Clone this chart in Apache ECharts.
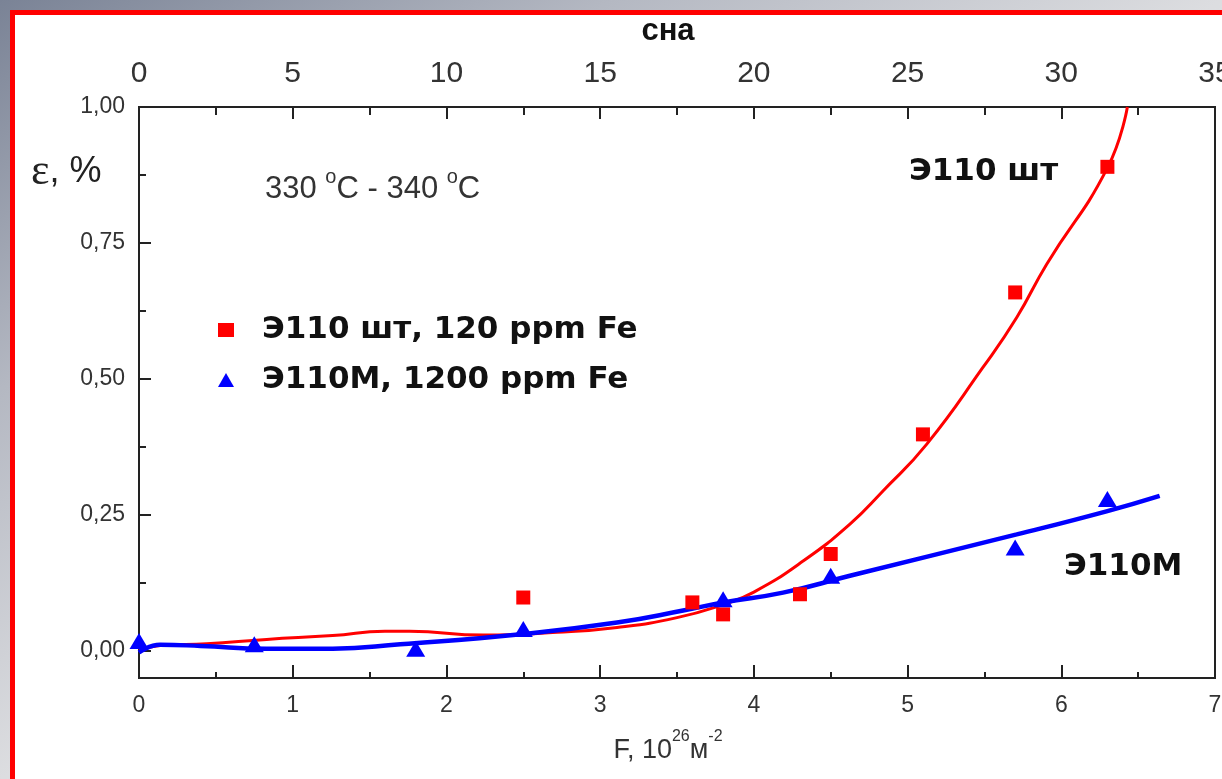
<!DOCTYPE html>
<html>
<head>
<meta charset="utf-8">
<script src="https://cdn.jsdelivr.net/npm/echarts@6/dist/echarts.min.js"></script>
<style>
  html, body { margin: 0; padding: 0; width: 1222px; height: 779px; overflow: hidden; }
  body { background: linear-gradient(to bottom right, #7a8396 0%, #b4b8c2 25%, #dcdde0 50%, #eeeeee 100%); }
  #frame { position: absolute; left: 10px; top: 10px; right: 0; bottom: 0;
           border-left: 5px solid #ff0000; border-top: 5px solid #ff0000; background: #ffffff; }
  #chart { position: absolute; left: 0; top: 0; width: 1222px; height: 779px; }
</style>
</head>
<body>
<div id="frame"></div>
<div id="chart"></div>
<script>
// Creep strain vs. fluence, 330-340 °C
const nameE110 = 'Э110 шт, 120 ppm Fe';
const nameE110M = 'Э110М, 1200 ppm Fe';

// measured points
const fluenceE110 = [2.5, 3.6, 3.8, 4.3, 4.5, 5.1, 5.7, 6.3];
const strainE110  = [0.098, 0.089, 0.067, 0.104, 0.178, 0.398, 0.659, 0.89];
const fluenceE110M = [0.0, 0.75, 1.8, 2.5, 3.8, 4.5, 5.7, 6.3];
const strainE110M  = [0.018, 0.012, 0.004, 0.040, 0.095, 0.138, 0.190, 0.279];

// fitted trend curves
const fitE110X = [0.0, 0.15, 0.44, 0.83, 1.26, 1.6, 1.76, 2.24, 2.72, 3.11, 3.5, 3.8, 4.0, 4.32, 4.625, 4.84, 5.125, 5.49, 5.71, 5.905, 6.3, 6.43];
const fitE110Y = [0.0, 0.010, 0.013, 0.021, 0.028, 0.036, 0.036, 0.029, 0.034, 0.043, 0.061, 0.085, 0.108, 0.165, 0.233, 0.294, 0.380, 0.521, 0.613, 0.711, 0.888, 1.0];
const fitE110MX = [0.0, 0.137, 0.4, 0.83, 1.26, 1.7, 2.5, 3.11, 3.54, 3.8, 4.19, 4.625, 5.71, 6.3, 6.64];
const fitE110MY = [-0.003, 0.011, 0.009, 0.004, 0.004, 0.012, 0.031, 0.052, 0.074, 0.089, 0.107, 0.138, 0.214, 0.257, 0.285];

// axis ticks
const fluenceTicks = [0, 1, 2, 3, 4, 5, 6, 7];
const topTicks = [0, 5, 10, 15, 20, 25, 30, 35];
const strainMajor = [0, 0.25, 0.5, 0.75, 1.0];
const strainMinor = [0.125, 0.375, 0.625, 0.875];

const zip = (xs, ys) => xs.map((x, i) => [x, ys[i]]);

const SANS = '"Liberation Sans", Arial, sans-serif';
const BOLD = '"DejaVu Sans", Verdana, sans-serif';
const AXIS = '#222';
const RED = '#ff0000';
const BLUE = '#0000ff';

const chart = echarts.init(document.getElementById('chart'), null, { renderer: 'canvas' });

const tickStyle = { color: AXIS, width: 2 };

chart.setOption({
  backgroundColor: 'transparent',
  animation: false,
  grid: {
    left: 139, right: 7, top: 107, bottom: 101,
    outerBoundsMode: 'none', containLabel: false,
    show: true, borderColor: AXIS, borderWidth: 2, backgroundColor: 'transparent'
  },
  legend: {
    data: [nameE110, nameE110M],
    orient: 'vertical',
    left: 213, top: 308,
    itemWidth: 16, itemHeight: 14,
    itemGap: 16,
    textStyle: { fontFamily: BOLD, fontWeight: 'bold', fontSize: 31, color: '#111', lineHeight: 34, padding: [0, 0, 0, 23] }
  },
  xAxis: [
    {
      type: 'value', position: 'bottom', min: fluenceTicks[0], max: fluenceTicks[fluenceTicks.length - 1], interval: 1,
      axisLine: { show: true, onZero: false, lineStyle: tickStyle },
      axisTick: { inside: true, length: 13, lineStyle: tickStyle },
      minorTick: { show: true, splitNumber: 2, length: 6, lineStyle: tickStyle },
      splitLine: { show: false },
      axisLabel: { fontFamily: SANS, fontSize: 23, color: '#333', margin: 16 },
      name: '{t|F, 10}{s|26}{t|м}{s|-2}',
      nameLocation: 'middle', nameGap: 51,
      nameTextStyle: {
        padding: [0, 18, 0, 0],
        rich: {
          t: { fontFamily: SANS, fontSize: 27, lineHeight: 44, color: '#333' },
          s: { fontFamily: SANS, fontSize: 16, lineHeight: 16, verticalAlign: 'top', color: '#333' }
        }
      }
    },
    {
      type: 'value', position: 'top', min: topTicks[0], max: topTicks[topTicks.length - 1], interval: 5,
      axisLine: { show: true, onZero: false, lineStyle: tickStyle },
      axisTick: { inside: true, length: 12, lineStyle: tickStyle },
      minorTick: { show: true, splitNumber: 2, length: 8, lineStyle: tickStyle },
      splitLine: { show: false },
      axisLabel: { fontFamily: SANS, fontSize: 30, color: '#333', margin: 18 },
      name: 'сна', nameLocation: 'middle', nameGap: 60,
      nameTextStyle: { fontFamily: SANS, fontWeight: 'bold', fontSize: 31, color: '#111', padding: [0, 18, 0, 0] }
    }
  ],
  yAxis: [
    {
      type: 'value', position: 'left', min: -0.05, max: 1.0,
      axisLine: { show: true, onZero: false, lineStyle: tickStyle },
      axisTick: { inside: true, length: 12, lineStyle: tickStyle, customValues: strainMajor },
      splitLine: { show: false },
      axisLabel: {
        customValues: strainMajor,
        fontFamily: SANS, fontSize: 23, color: '#333', margin: 14,
        formatter: v => v.toFixed(2).replace('.', ',')
      }
    },
    {
      type: 'value', position: 'left', min: -0.05, max: 1.0,
      axisLine: { show: false },
      axisTick: { show: true, inside: true, length: 7, lineStyle: tickStyle, customValues: strainMinor },
      axisLabel: { show: false },
      splitLine: { show: false }
    }
  ],
  series: [
    {
      name: 'fit Э110', type: 'line', data: zip(fitE110X, fitE110Y),
      smooth: 0.5, showSymbol: false, symbol: 'none',
      lineStyle: { color: RED, width: 3 }, z: 2, silent: true
    },
    {
      name: 'fit Э110М', type: 'line', data: zip(fitE110MX, fitE110MY),
      smooth: 0.5, showSymbol: false, symbol: 'none',
      lineStyle: { color: BLUE, width: 4.5 }, z: 2, silent: true
    },
    {
      name: nameE110, type: 'scatter', data: zip(fluenceE110, strainE110),
      symbol: 'rect', symbolSize: 14, itemStyle: { color: RED, opacity: 1 }, z: 4
    },
    {
      name: nameE110M, type: 'scatter', data: zip(fluenceE110M, strainE110M),
      symbol: 'triangle', symbolSize: [19, 16], itemStyle: { color: BLUE, opacity: 1 }, z: 5
    }
  ],
  graphic: [
    {
      type: 'text', left: 31, top: 150,
      style: {
        text: '{e|ε}{p|, %}',
        rich: {
          e: { fontFamily: '"Liberation Serif", "Times New Roman", serif', fontSize: 44, fill: '#222', lineHeight: 44 },
          p: { fontFamily: SANS, fontSize: 36, fill: '#222', lineHeight: 44 }
        }
      }
    },
    {
      type: 'text', left: 265, top: 167,
      style: {
        text: '{n|330 }{o|o}{n|C - 340 }{o|o}{n|C}',
        rich: {
          n: { fontFamily: SANS, fontSize: 31, lineHeight: 44, fill: '#333' },
          o: { fontFamily: SANS, fontSize: 20, lineHeight: 20, verticalAlign: 'top', fill: '#333' }
        }
      }
    },
    {
      type: 'text', left: 909, top: 156,
      style: { text: 'Э110 шт', font: 'bold 31px ' + BOLD, fill: '#111' }
    },
    {
      type: 'text', left: 1064, top: 551,
      style: { text: 'Э110М', font: 'bold 31px ' + BOLD, fill: '#111' }
    }
  ]
});
</script>
</body>
</html>
